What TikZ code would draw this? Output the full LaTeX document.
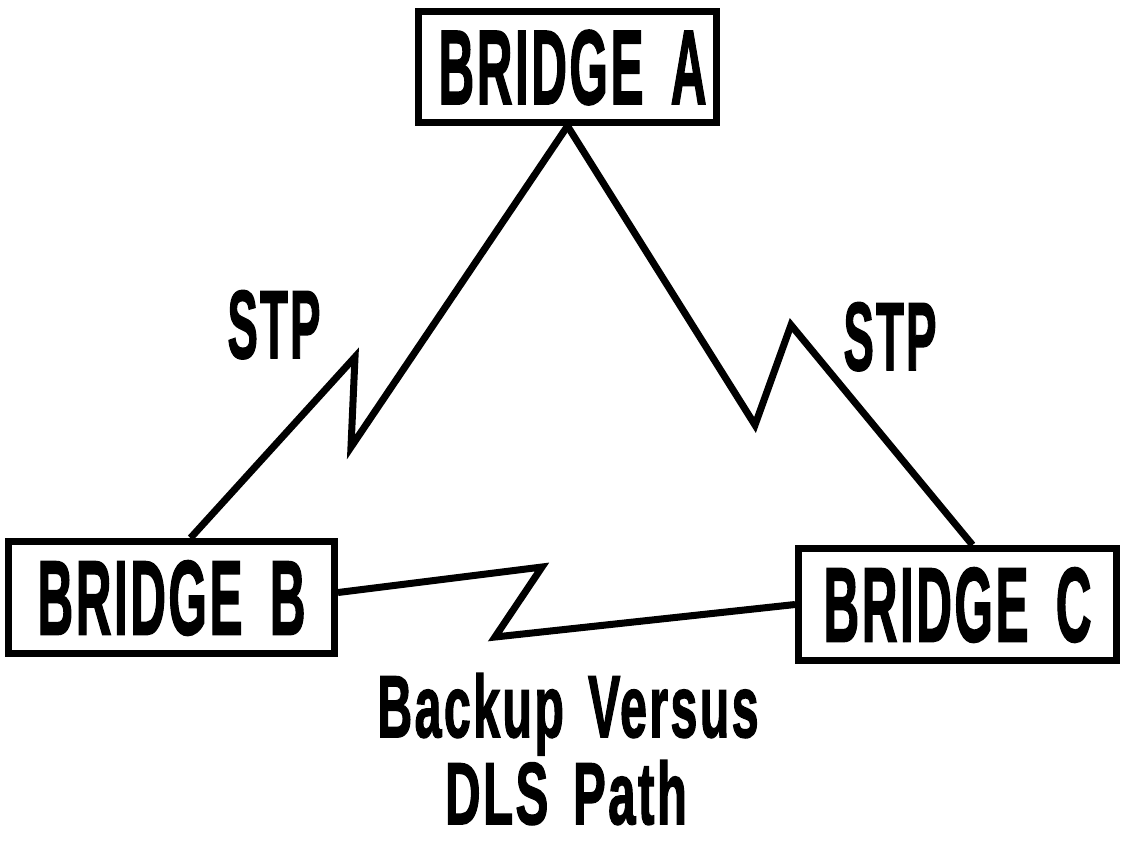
\documentclass[tikz,border=0pt]{standalone}
\usepackage{fontspec}
\setmainfont{Liberation Sans}
\newfontfamily\heavy{Liberation Sans Bold}[FakeBold=2, LetterSpace=5]
\usetikzlibrary{calc}
\tikzset{
  bridge/.style={draw, line width=4pt, inner sep=0pt, text depth=0pt,
    font=\heavy\fontsize{60}{60}\selectfont},
  wire/.style={line width=4pt, line join=miter},
  lbl/.style={inner sep=0pt, anchor=base}
}
\newcommand{\cond}[2]{\scalebox{#1}[1]{#2}}
\begin{document}
\begin{tikzpicture}[x=0.02cm,y=-0.02cm]
\useasboundingbox (0,0) rectangle (1126,840);
\node[bridge, minimum width=5.96cm, minimum height=2.22cm] (A) at (567.5,67) {\hspace{0.2cm}\cond{0.47}{BRIDGE\hspace{0.55em}A}};
\node[bridge, minimum width=6.52cm, minimum height=2.24cm] (B) at (171.5,597.5) {\cond{0.47}{BRIDGE\hspace{0.55em}B}};
\node[bridge, minimum width=6.36cm, minimum height=2.24cm] (C) at (957.5,604.5) {\cond{0.47}{BRIDGE\hspace{0.55em}C}};
\draw[wire] (A.south) -- (351,447) -- (355,357) -- ($(B.north)+(19,0)$);
\draw[wire] (A.south) -- (755,425) -- (791,325) -- ($(C.north)+(15,0)$);
\draw[wire] ($(B.east)+(0,-5)$) -- (542,567) -- (495,637) -- (C.west);
\node[lbl, font=\heavy\fontsize{55}{55}\selectfont] (stp1) at (274,358) {\cond{0.47}{STP}};
\node[lbl, font=\heavy\fontsize{55}{55}\selectfont] (stp2) at (890,370) {\cond{0.47}{STP}};
\node[lbl, font=\heavy\fontsize{50}{50}\selectfont] (t1) at (568,737) {\cond{0.55}{Backup\hspace{0.5em}Versus}};
\node[lbl, font=\heavy\fontsize{50}{50}\selectfont] (t2) at (566,824) {\cond{0.56}{DLS\hspace{0.5em}Path}};
\end{tikzpicture}
\end{document}
